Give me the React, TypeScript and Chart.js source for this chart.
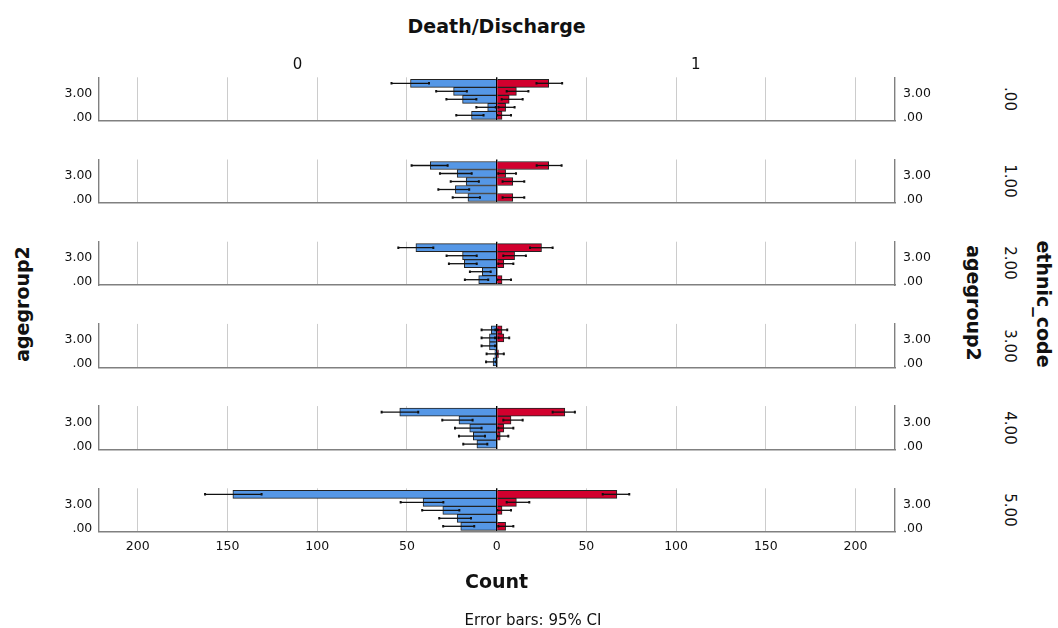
import React, { useEffect, useRef } from 'react';
import { Chart, registerables } from 'chart.js';

Chart.register(...registerables);

// ---------- data ----------
const ethnicCodes = ['.00', '1.00', '2.00', '3.00', '4.00', '5.00'];
const ageGroups = [0, 1, 2, 3, 4];
const ageTickValues = [0, 3];
const countTicks = [-200, -150, -100, -50, 0, 50, 100, 150, 200];
const statusLabels = ['0', '1'];

// Death/Discharge = 0 (left side), rows = ethnic_code, cols = agegroup2 0..4
const count0 = [
  [14, 5, 19, 24, 48],
  [16, 23, 17, 22, 37],
  [10, 8, 18, 19, 45],
  [2, 1, 4, 4, 3],
  [11, 13, 15, 21, 54],
  [20, 22, 30, 41, 147],
];
const ciLow0 = [
  [7.3, 0.5, 11.3, 16.6, 37.7],
  [9.3, 15.3, 9.9, 13.9, 27.3],
  [4.7, 3.3, 11.1, 11.1, 35.3],
  [0.3, 0, 0.9, 0.9, 0.7],
  [5.2, 6.5, 8.4, 13.4, 43.7],
  [12.5, 14.3, 20.8, 29.7, 131],
];
const ciHigh0 = [
  [22.5, 11.3, 28, 33.7, 58.6],
  [24.5, 32.5, 25.6, 31.6, 47.4],
  [17.7, 14.9, 26.6, 27.9, 54.8],
  [5.9, 5.6, 8.4, 8.4, 8.4],
  [18.6, 21, 23.2, 30.3, 64.1],
  [29.8, 32, 41.5, 53.5, 162.5],
];

// Death/Discharge = 1 (right side)
const count1 = [
  [3, 5, 7, 11, 29],
  [9, 0, 9, 5, 29],
  [3, 0, 4, 10, 25],
  [0, 1, 0, 4, 3],
  [0, 2, 4, 8, 38],
  [5, 0, 3, 11, 67],
];
const ciLow1 = [
  [0.3, 1, 2.8, 5.6, 22.2],
  [3.3, 0, 3.3, 0.9, 22.3],
  [0.3, 0, 0.9, 3.7, 18.6],
  [0, 0, 0, 1, 0.5],
  [0, 0.3, 0.9, 3.7, 31.2],
  [0.9, 0, 0.3, 5.6, 59.1],
];
const ciHigh1 = [
  [8, 10, 14.5, 17.7, 36.5],
  [15.4, 0, 15.4, 10.8, 36.2],
  [8, 0, 9.3, 16.3, 31.2],
  [0, 4, 0, 7, 5.9],
  [0, 6.5, 9.3, 14.5, 43.6],
  [9.3, 0, 8, 18.2, 73.9],
];

// ---------- layout / style ----------
const FONT = '"DejaVu Sans", "Liberation Sans", sans-serif';
const BLUE = '#5597e6';
const RED = '#d2002e';
const BAR_BORDER = '#222222';
const GRID = '#cccccc';
const AXIS = '#808080';
const TEXT = '#111111';

const PANEL_TOP0 = 77.3;
const PANEL_STEP = 82.2;
const PANEL_H = 43.4;
const PLOT_LEFT = 98.3;
const PLOT_RIGHT = 895;
const CANVAS_LEFT = 40;
const CANVAS_W = 920;
const X_MIN = -222;
const X_MAX = 222;
const Y_MIN = -0.675;
const Y_MAX = 4.75;

function panelGeom(index: number) {
  const top = PANEL_TOP0 + PANEL_STEP * index;
  const canvasTop = Math.floor(top) - 10;
  const padTop = top - canvasTop;
  const isLast = index === ethnicCodes.length - 1;
  const h = Math.ceil(padTop + PANEL_H + (isLast ? 40 : 12));
  const xH = h - padTop - PANEL_H;
  return { top, canvasTop, padTop, isLast, h, xH };
}

const ageLabel = (v: number) => (v === 0 ? '.00' : Number(v).toFixed(2));

function makeErrorBarPlugin(idx: number) {
  return {
    id: 'errorBars',
    afterDatasetsDraw(chart: any) {
      const { ctx } = chart;
      const xs = chart.scales.x;
      const ys = chart.scales.y;
      const sides = [
        { c: count0, lo: ciLow0, hi: ciHigh0, s: -1 },
        { c: count1, lo: ciLow1, hi: ciHigh1, s: 1 },
      ];
      ctx.save();
      ctx.strokeStyle = '#111111';
      ctx.lineCap = 'butt';
      for (const side of sides) {
        ageGroups.forEach((a, j) => {
          if (!(side.c[idx][j] > 0)) return;
          const py = ys.getPixelForValue(a);
          const x1 = xs.getPixelForValue(side.s * side.lo[idx][j]);
          const x2 = xs.getPixelForValue(side.s * side.hi[idx][j]);
          ctx.lineWidth = 1.3;
          ctx.beginPath();
          ctx.moveTo(x1, py);
          ctx.lineTo(x2, py);
          ctx.stroke();
          ctx.lineWidth = 2;
          ctx.beginPath();
          ctx.moveTo(x1, py - 1.3);
          ctx.lineTo(x1, py + 1.3);
          ctx.moveTo(x2, py - 1.3);
          ctx.lineTo(x2, py + 1.3);
          ctx.stroke();
        });
      }
      ctx.restore();
    },
  };
}

function Panel({ index }: { index: number }) {
  const ref = useRef<HTMLCanvasElement | null>(null);
  const g = panelGeom(index);

  useEffect(() => {
    if (!ref.current) return;
    const tickFont = { family: FONT, size: 12.5 };
    const zeroPad = (s: any) => {
      s.paddingLeft = 0;
      s.paddingRight = 0;
      s.paddingTop = 0;
      s.paddingBottom = 0;
    };
    const ageAxis = (position: string, width: number, pad: number) => ({
      type: 'linear',
      position,
      min: Y_MIN,
      max: Y_MAX,
      offset: false,
      stacked: true,
      afterBuildTicks: (s: any) => {
        s.ticks = ageTickValues.map((v) => ({ value: v }));
      },
      afterFit: (s: any) => {
        s.width = width;
        zeroPad(s);
      },
      grid: { display: false, drawTicks: false, offset: false },
      border: { display: true, color: AXIS, width: 1.4 },
      ticks: {
        padding: pad,
        labelOffset: 2.2,
        font: tickFont,
        color: TEXT,
        autoSkip: false,
        callback: (v: any) => ageLabel(Number(v)),
      },
    });
    const chart = new Chart(ref.current, {
      type: 'bar',
      data: {
        datasets: [
          {
            label: statusLabels[0],
            data: ageGroups.map((a, j) => ({ y: a, x: count0[index][j] > 0 ? -count0[index][j] : null })),
            backgroundColor: BLUE,
            borderColor: BAR_BORDER,
            borderWidth: 1,
            barPercentage: 1,
            categoryPercentage: 1,
          },
          {
            label: statusLabels[1],
            data: ageGroups.map((a, j) => ({ y: a, x: count1[index][j] > 0 ? count1[index][j] : null })),
            backgroundColor: RED,
            borderColor: BAR_BORDER,
            borderWidth: 1,
            barPercentage: 1,
            categoryPercentage: 1,
          },
        ],
      } as any,
      options: {
        indexAxis: 'y',
        responsive: false,
        animation: false,
        events: [],
        layout: { padding: { top: g.padTop, bottom: 0, left: 0, right: 0 } },
        plugins: { legend: { display: false }, tooltip: { enabled: false } },
        scales: {
          x: {
            type: 'linear',
            position: 'bottom',
            min: X_MIN,
            max: X_MAX,
            stacked: true,
            afterBuildTicks: (s: any) => {
              s.ticks = countTicks.map((v) => ({ value: v }));
            },
            afterFit: (s: any) => {
              s.height = g.xH;
              zeroPad(s);
            },
            grid: {
              drawTicks: false,
              color: (c: any) => (c.tick && c.tick.value === 0 ? '#000000' : GRID),
              lineWidth: (c: any) => (c.tick && c.tick.value === 0 ? 1.4 : 1),
            },
            border: { display: true, color: AXIS, width: 1.4 },
            ticks: {
              display: g.isLast,
              padding: 8,
              font: tickFont,
              color: TEXT,
              maxRotation: 0,
              autoSkip: false,
              callback: (v: any) => String(Math.abs(Number(v))),
            },
          },
          y: ageAxis('left', PLOT_LEFT - CANVAS_LEFT, 6),
          y2: ageAxis('right', CANVAS_LEFT + CANVAS_W - PLOT_RIGHT, 8),
        },
      } as any,
      plugins: [makeErrorBarPlugin(index)],
    });
    return () => chart.destroy();
  }, [index]);

  return (
    <canvas
      ref={ref}
      width={CANVAS_W}
      height={g.h}
      style={{
        position: 'absolute',
        left: CANVAS_LEFT,
        top: g.canvasTop,
        width: CANVAS_W,
        height: g.h,
        display: 'block',
      }}
    />
  );
}

function Label({
  x,
  y,
  text,
  size,
  bold,
  rotate,
}: {
  x: number;
  y: number;
  text: string;
  size: number;
  bold?: boolean;
  rotate?: number;
}) {
  return (
    <div
      style={{
        position: 'absolute',
        left: x,
        top: y,
        transform: `translate(-50%, -50%) rotate(${rotate || 0}deg)`,
        fontFamily: FONT,
        fontSize: size,
        fontWeight: bold ? 'bold' : 'normal',
        lineHeight: 1,
        whiteSpace: 'nowrap',
        color: TEXT,
      }}
    >
      {text}
    </div>
  );
}

export default function App() {
  const center = (PLOT_LEFT + PLOT_RIGHT) / 2;
  return (
    <div
      style={{
        position: 'absolute',
        left: 0,
        top: 0,
        width: 1058,
        height: 628,
        background: '#ffffff',
        overflow: 'hidden',
      }}
    >
      {ethnicCodes.map((_, i) => (
        <Panel key={i} index={i} />
      ))}
      <Label x={center} y={25.8} text="Death/Discharge" size={19} bold />
      <Label x={(PLOT_LEFT + center) / 2} y={63.7} text={statusLabels[0]} size={15} />
      <Label x={(center + PLOT_RIGHT) / 2} y={63.7} text={statusLabels[1]} size={15} />
      <Label x={22} y={304} text="agegroup2" size={19} bold rotate={-90} />
      <Label x={973.3} y={303} text="agegroup2" size={19} bold rotate={90} />
      <Label x={1043.3} y={304} text="ethnic_code" size={19} bold rotate={90} />
      {ethnicCodes.map((code, i) => (
        <Label
          key={code}
          x={1009}
          y={PANEL_TOP0 + PANEL_STEP * i + PANEL_H / 2}
          text={code}
          size={15}
          rotate={90}
        />
      ))}
      <Label x={center} y={581} text="Count" size={19} bold />
      <Label x={533} y={620} text="Error bars: 95% CI" size={15} />
    </div>
  );
}
